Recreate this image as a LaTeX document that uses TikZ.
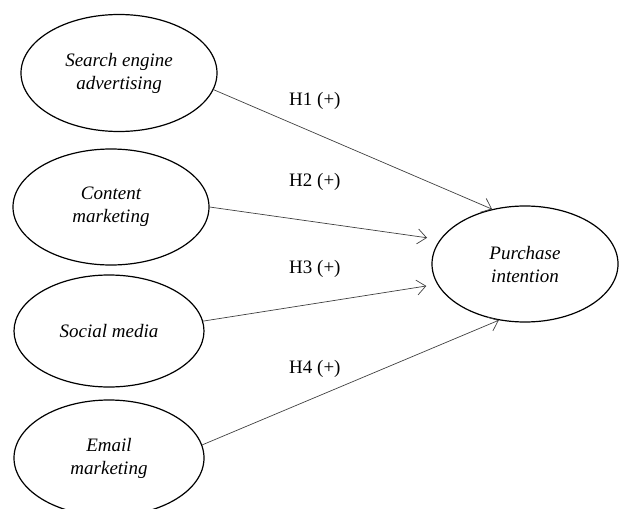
\documentclass[tikz,border=0pt]{standalone}
\usepackage{fontspec}
\setmainfont{Liberation Serif}
\usetikzlibrary{shapes.geometric,arrows.meta}
\begin{document}
\begin{tikzpicture}[x=1pt,y=-1pt,
  construct/.style={draw,line width=1.2pt,ellipse,inner sep=0pt,align=center,
    font=\fontsize{19}{23}\selectfont\itshape},
  effect/.style={draw=black!75,line width=0.7pt,-{Straight Barb[length=9pt,width=15pt]}}]
\useasboundingbox (0,0) rectangle (620,508);

%Marketing channels
\node [construct,minimum width=196pt,minimum height=117pt] (sea) at (119,73) {Search engine\\advertising};
\node [construct,minimum width=196pt,minimum height=116pt] (cm) at (111,207) {Content\\marketing};
\node [construct,minimum width=190pt,minimum height=112pt] (sm) at (109,331) {Social media};
\node [construct,minimum width=190pt,minimum height=116pt] (em) at (109,458) {Email\\marketing};

%Outcome
\node [construct,minimum width=186pt,minimum height=116pt] (pi) at (525,264) {Purchase\\intention};

%Hypotheses
\draw [effect] (sea.-10) -- (pi.121);
\draw [effect,shorten >=13pt] (cm.east) -- (pi.164);
\draw [effect,shorten >=11pt] (sm.6) -- (pi.193);
\draw [effect] (em.8) -- (pi.245);
\foreach \n/\y in {1/106,2/186,3/273,4/373}
	\node [anchor=base west,inner sep=0pt,font=\fontsize{19}{23}\selectfont] (h\n) at (289,\y) {H\n\ (+)};
\end{tikzpicture}
\end{document}
